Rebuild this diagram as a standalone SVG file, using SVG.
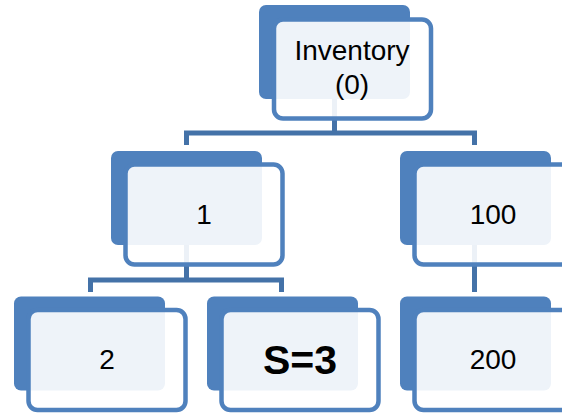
<svg xmlns="http://www.w3.org/2000/svg" width="562" height="413" viewBox="0 0 562 413">
  <style>
    .back { fill: #4F81BD; }
    .front { fill: #FFFFFF; fill-opacity: 0.9; stroke: #4F81BD; stroke-width: 4.5; }
    .link { fill: none; stroke: #4472A8; stroke-width: 5; stroke-linejoin: miter; }
    .label { font-family: "Liberation Sans", Arial, sans-serif; font-size: 28px; fill: #000000; text-anchor: middle; }
    .bold { font-weight: bold; font-size: 41px; }
  </style>
  <rect width="562" height="413" fill="#FFFFFF"/>

  <!-- tree connectors, drawn under the node shapes -->
  <g id="connectors">
    <path class="link" d="M334.5 99 V133"/>
    <path class="link" d="M186.5 145 V133 H474.5 V145"/>
    <path class="link" d="M186.5 245 V280"/>
    <path class="link" d="M90.5 292 V280 H281.5 V292"/>
    <path class="link" d="M474.5 245 V292"/>
  </g>

  <g id="node-inventory">
    <rect class="back" x="259" y="5" width="151" height="94" rx="7"/>
    <rect class="front" x="274" y="19.5" width="157" height="99" rx="9"/>
    <text class="label" x="352" y="60">Inventory</text>
    <text class="label" x="352" y="94">(0)</text>
  </g>

  <g id="node-1">
    <rect class="back" x="111" y="151" width="151" height="94" rx="7"/>
    <rect class="front" x="125.5" y="164.5" width="157" height="100" rx="9"/>
    <text class="label" x="204" y="224">1</text>
  </g>

  <g id="node-100">
    <rect class="back" x="400" y="151" width="151" height="94" rx="7"/>
    <rect class="front" x="414.5" y="164.5" width="157" height="100" rx="9"/>
    <text class="label" x="493" y="224">100</text>
  </g>

  <g id="node-2">
    <rect class="back" x="14" y="296.5" width="151" height="94" rx="7"/>
    <rect class="front" x="28.5" y="310" width="157" height="100" rx="9"/>
    <text class="label" x="107" y="369">2</text>
  </g>

  <g id="node-s3">
    <rect class="back" x="207" y="296.5" width="151" height="94" rx="7"/>
    <rect class="front" x="221.5" y="310" width="157" height="100" rx="9"/>
    <text class="label bold" x="300" y="374">S=3</text>
  </g>

  <g id="node-200">
    <rect class="back" x="400" y="296.5" width="151" height="94" rx="7"/>
    <rect class="front" x="414.5" y="310" width="157" height="100" rx="9"/>
    <text class="label" x="493" y="369">200</text>
  </g>
</svg>
